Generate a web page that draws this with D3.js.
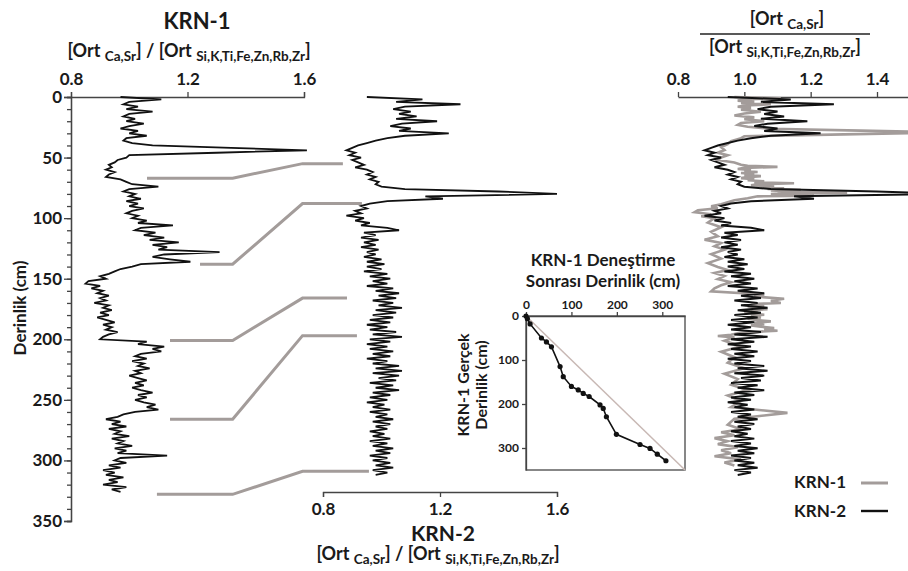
<!DOCTYPE html>
<html><head><meta charset="utf-8">
<script src="https://cdn.jsdelivr.net/npm/d3@7/dist/d3.min.js"></script>
<style>
body{margin:0;background:#fff}
text{font-family:Lato,"Open Sans",sans-serif;font-weight:700;fill:#1a1a1a}
</style>
</head><body>
<svg id="chart" width="908" height="571"></svg>
<script>
// ---------------- DATA ----------------
const depthTicks = [0,50,100,150,200,250,300,350];
const panel1Ticks = [0.8,1.2,1.6];
const panel3Ticks = [0.8,1.0,1.2,1.4];
const insetTicks = [0,100,200,300];

// KRN-1 ratio vs depth (cm)
const krn1Depth = [0,2,4,6,8,10,12,14,16,18,20,22,24,26,28,30,32,34,36,38,40,42,44,46,48,50,52,54,56,58,60,62,64,66,68,70,72,74,76,78,80,82,84,86,88,90,92,94,96,98,100,102,104,106,108,110,112,114,116,118,120,122,124,126,128,130,132,134,136,138,140,142,144,146,148,150,152,154,156,158,160,162,164,166,168,170,172,174,176,178,180,182,184,186,188,190,192,194,196,198,200,202,204,206,208,210,212,214,216,218,220,222,224,226,228,230,232,234,236,238,240,242,244,246,248,250,252,254,256,258,260,262,264,266,268,270,272,274,276,278,280,282,284,286,288,290,292,294,296,298,300,302,304,306,308,310,312,314,316,318,320,322,324,326];
const krn1Values = [
0.97,1.11,1.00,0.98,1.03,0.99,1.08,1.00,0.98,1.02,
0.99,1.05,1.00,0.97,1.03,1.00,1.06,0.99,0.98,1.01,
1.08,1.35,1.61,1.30,1.00,0.99,0.96,0.95,0.93,0.94,
0.92,0.95,0.93,0.92,0.97,0.99,1.01,1.10,1.00,0.98,
1.02,1.00,1.04,0.99,1.03,1.00,1.05,1.01,0.99,1.03,
1.01,1.06,1.03,1.15,1.04,1.02,1.09,1.05,1.12,1.07,
1.17,1.08,1.13,1.10,1.31,1.12,1.08,1.14,1.21,1.04,
1.01,0.97,0.95,0.93,0.90,0.92,0.86,0.85,0.90,0.87,
0.91,0.89,0.93,0.90,0.92,0.88,0.93,0.91,0.94,0.90,
0.93,0.89,0.92,0.95,0.91,0.94,0.92,0.96,0.93,0.91,
0.90,1.06,1.03,1.12,1.08,1.11,1.04,1.02,1.06,1.01,
1.05,1.03,1.07,1.02,1.04,1.00,1.03,1.06,1.02,1.05,
1.01,1.04,1.08,1.03,1.06,1.02,1.05,1.09,1.06,1.10,
1.02,0.98,0.96,0.92,0.97,0.94,0.99,0.93,0.97,0.95,
1.00,0.94,0.98,0.96,1.01,0.95,0.99,0.96,1.13,0.97,
0.95,0.99,0.93,0.97,0.91,0.95,0.92,0.98,0.93,0.96,
0.91,0.99,0.94,0.97];

// KRN-2 ratio vs depth (cm)
const krn2Depth = [0,2,4,6,8,10,12,14,16,18,20,22,24,26,28,30,32,34,36,38,40,42,44,46,48,50,52,54,56,58,60,62,64,66,68,70,72,74,76,78,80,82,84,86,88,90,92,94,96,98,100,102,104,106,108,110,112,114,116,118,120,122,124,126,128,130,132,134,136,138,140,142,144,146,148,150,152,154,156,158,160,162,164,166,168,170,172,174,176,178,180,182,184,186,188,190,192,194,196,198,200,202,204,206,208,210,212,214,216,218,220,222,224,226,228,230,232,234,236,238,240,242,244,246,248,250,252,254,256,258,260,262,264,266,268,270,272,274,276,278,280,282,284,286,288,290,292,294,296,298,300,302,304,306,308,310,312];
const krn2Values = [
0.95,1.14,1.05,1.27,1.08,1.04,1.10,1.06,1.12,1.05,
1.19,1.07,1.03,1.10,1.06,1.23,1.08,1.02,0.98,0.95,
0.92,0.90,0.88,0.91,0.89,0.93,0.90,0.92,0.94,0.91,
0.95,0.97,0.95,0.98,0.96,0.99,0.98,1.00,1.08,1.40,
1.60,1.15,1.21,
1.02,0.96,0.93,0.95,0.91,0.93,0.88,0.94,0.91,0.96,
0.93,1.02,1.06,0.94,0.98,0.93,0.99,0.94,0.98,0.93,
0.99,0.95,0.98,0.94,1.00,0.95,1.01,0.95,1.00,0.94,
1.02,0.96,1.03,0.97,1.02,0.95,1.04,0.98,1.06,0.99,
1.05,0.97,1.04,0.99,1.07,0.98,1.05,0.97,1.04,0.96,
1.03,0.95,1.02,0.96,1.05,0.97,1.07,0.96,1.03,0.95,
1.02,0.96,1.04,0.97,1.03,0.95,1.02,0.97,1.06,0.98,
1.07,0.97,1.06,0.99,1.05,0.96,1.04,0.98,1.06,0.97,
1.03,0.96,1.02,0.95,1.01,0.97,1.03,0.96,1.02,0.98,
1.04,0.97,1.03,0.98,1.02,0.96,1.01,0.97,1.03,0.96,
1.02,0.97,1.04,0.98,1.03,0.96,1.02,0.97,1.03,0.98,
1.04,0.97,1.02,0.98];

// Tie points (KRN-1 depth -> KRN-2 depth)
const tieKrn1Depth = [67,138,201,266,328];
const tieKrn2Depth = [55,88,166,197,309];
const tieStartValue = [1.061,1.243,1.14,1.14,1.095];  // on KRN-1 axis
const tieEndValue = [0.868,0.933,0.882,0.916,0.957];  // on KRN-2 axis

// Inset: KRN-1 adjusted depth (x) vs true depth (y)
const insetAdjusted = [0,3,9,34,45,56,75,82,100,115,126,139,163,170,177,199,251,273,289,308];
const insetTrue = [0,6,18,50,59,70,115,138,160,168,176,183,202,210,229,269,292,301,314,329];

// ---------------- DRAW ----------------
const svg = d3.select("#chart");
const gray = "#a39c9a";

const y = d3.scaleLinear().domain([0,350]).range([97,521]);
const x1 = d3.scaleLinear().domain([0.8,1.6]).range([71,304]);
const x2 = d3.scaleLinear().domain([0.8,1.6]).range([323,557]);
const x3 = d3.scaleLinear().domain([0.8,1.4]).range([678,877]);
const xi = d3.scaleLinear().domain([0,350]).range([526,685]);
const yi = d3.scaleLinear().domain([0,350]).range([316,470]);

function styleAxis(g, fs){
  g.selectAll("path,line").attr("stroke","#444").attr("stroke-width",1.3);
  g.selectAll("text").style("font-size",fs+"px").attr("fill","#1a1a1a");
}

// Depth axis
const minor = d3.range(0,351,10);
svg.append("g").attr("transform","translate(71,0)")
  .call(d3.axisLeft(y).tickValues(minor).tickSize(4).tickFormat(""))
  .call(g=>styleAxis(g,14));
svg.append("g").attr("transform","translate(71,0)")
  .call(d3.axisLeft(y).tickValues(depthTicks).tickSize(7).tickPadding(2).tickFormat(d3.format("d")))
  .call(g=>styleAxis(g,17));
svg.append("text").attr("transform","translate(26,308) rotate(-90)")
  .attr("text-anchor","middle").style("font-size","17px").text("Derinlik (cm)");

// Panel 1 top axis
svg.append("g").attr("transform","translate(0,97)")
  .call(d3.axisTop(x1).tickValues(panel1Ticks).tickSize(5).tickPadding(7).tickFormat(d3.format(".1f")))
  .call(g=>styleAxis(g,17));

// Panel 2 bottom axis
svg.append("g").attr("transform","translate(0,492)")
  .call(d3.axisBottom(x2).tickValues(panel1Ticks).tickSize(5).tickPadding(6).tickFormat(d3.format(".1f")))
  .call(g=>styleAxis(g,17));

// Panel 3 top axis (extends to the edge)
const x3ext = d3.scaleLinear().domain([0.8, x3.invert(908)]).range([678,908]);
svg.append("g").attr("transform","translate(0,97)")
  .call(d3.axisTop(x3ext).tickValues(panel3Ticks).tickSize(5).tickSizeOuter(0).tickPadding(7).tickFormat(d3.format(".1f")))
  .call(g=>styleAxis(g,17));

// Ratio label
function ratioLabel(x, yy, big, small){
  const t = svg.append("text").attr("x",x).attr("y",yy).attr("text-anchor","middle").style("font-size",big+"px");
  t.append("tspan").text("[Ort ");
  t.append("tspan").attr("dy",4).style("font-size",small+"px").text("Ca,Sr");
  t.append("tspan").attr("dy",-4).text("] / [Ort ");
  t.append("tspan").attr("dy",4).style("font-size",small+"px").text("Si,K,Ti,Fe,Zn,Rb,Zr");
  t.append("tspan").attr("dy",-4).text("]");
}
svg.append("text").attr("x",197).attr("y",29).attr("text-anchor","middle").style("font-size","22px").text("KRN-1");
ratioLabel(189,57,18,13.5);
svg.append("text").attr("x",443).attr("y",541).attr("text-anchor","middle").style("font-size","21px").text("KRN-2");
ratioLabel(438,560,18,13.5);

// Panel 3 fraction title
{
  const t = svg.append("text").attr("x",787).attr("y",25).attr("text-anchor","middle").style("font-size","18px");
  t.append("tspan").text("[Ort ");
  t.append("tspan").attr("dy",4).style("font-size","13.5px").text("Ca,Sr");
  t.append("tspan").attr("dy",-4).text("]");
  svg.append("line").attr("x1",700).attr("x2",870).attr("y1",34).attr("y2",34).attr("stroke","#222").attr("stroke-width",1.6);
  const b = svg.append("text").attr("x",785).attr("y",53).attr("text-anchor","middle").style("font-size","18px");
  b.append("tspan").text("[Ort ");
  b.append("tspan").attr("dy",4).style("font-size","13.5px").text("Si,K,Ti,Fe,Zn,Rb,Zr");
  b.append("tspan").attr("dy",-4).text("]");
}

// Tie lines
const bendA = x1(1.355), bendB = x1(1.595);
tieKrn1Depth.forEach((d,i)=>{
  const pts = [[x1(tieStartValue[i]), y(d)],[bendA, y(d)],[bendB, y(tieKrn2Depth[i])],[x2(tieEndValue[i]), y(tieKrn2Depth[i])]];
  svg.append("path").attr("d", d3.line()(pts)).attr("fill","none").attr("stroke",gray).attr("stroke-width",3);
});

// Traces
const krn1 = krn1Depth.map((d,i)=>({d, v:krn1Values[i]}));
const krn2 = krn2Depth.map((d,i)=>({d, v:krn2Values[i]}));
svg.append("path").datum(krn1).attr("fill","none").attr("stroke","#111").attr("stroke-width",1.8)
  .attr("d", d3.line().x(p=>x1(p.v)).y(p=>y(p.d)));
svg.append("path").datum(krn2).attr("fill","none").attr("stroke","#111").attr("stroke-width",1.8)
  .attr("d", d3.line().x(p=>x2(p.v)).y(p=>y(p.d)));

// Panel 3: KRN-1 on adjusted depth (gray) and KRN-2 (black)
const toAdjusted = d3.scaleLinear().domain(insetTrue).range(insetAdjusted);
svg.append("path").datum(krn1).attr("fill","none").attr("stroke",gray).attr("stroke-width",2.6)
  .attr("d", d3.line().x(p=>x3(p.v)).y(p=>y(toAdjusted(p.d))));
svg.append("path").datum(krn2).attr("fill","none").attr("stroke","#111").attr("stroke-width",2)
  .attr("d", d3.line().x(p=>x3(p.v)).y(p=>y(p.d)));

// Inset
svg.append("rect").attr("x",xi(0)).attr("y",yi(0)).attr("width",xi(350)-xi(0)).attr("height",yi(350)-yi(0))
  .attr("fill","#fff").attr("stroke","#555").attr("stroke-width",1.4);
svg.append("line").attr("x1",xi(0)).attr("y1",yi(0)).attr("x2",xi(350)).attr("y2",yi(350))
  .attr("stroke","#c8b8b4").attr("stroke-width",1.5);
svg.append("g").attr("transform",`translate(0,${yi(0)})`)
  .call(d3.axisTop(xi).tickValues(insetTicks).tickSize(4).tickSizeOuter(0).tickPadding(3))
  .call(g=>styleAxis(g,12));
svg.append("g").attr("transform",`translate(${xi(0)},0)`)
  .call(d3.axisLeft(yi).tickValues(insetTicks).tickSize(4).tickSizeOuter(0).tickPadding(3))
  .call(g=>styleAxis(g,12));
const insetPts = insetAdjusted.map((a,i)=>[xi(a), yi(insetTrue[i])]);
svg.append("path").attr("d", d3.line()(insetPts)).attr("fill","none").attr("stroke","#111").attr("stroke-width",1.6);
svg.selectAll("circle.ip").data(insetPts).enter().append("circle")
  .attr("cx",p=>p[0]).attr("cy",p=>p[1]).attr("r",2.6).attr("fill","#111");
svg.append("text").attr("x",603).attr("y",266).attr("text-anchor","middle").style("font-size","17px").text("KRN-1 Deneştirme");
svg.append("text").attr("x",603).attr("y",287).attr("text-anchor","middle").style("font-size","17px").text("Sonrası Derinlik (cm)");
svg.append("text").attr("transform","translate(469,385) rotate(-90)").attr("text-anchor","middle").style("font-size","16px").text("KRN-1 Gerçek");
svg.append("text").attr("transform","translate(487,385) rotate(-90)").attr("text-anchor","middle").style("font-size","16px").text("Derinlik (cm)");

// Legend
svg.append("text").attr("x",846).attr("y",488).attr("text-anchor","end").style("font-size","17px").text("KRN-1");
svg.append("line").attr("x1",861).attr("x2",888).attr("y1",483).attr("y2",483).attr("stroke",gray).attr("stroke-width",3);
svg.append("text").attr("x",846).attr("y",517).attr("text-anchor","end").style("font-size","17px").text("KRN-2");
svg.append("line").attr("x1",861).attr("x2",888).attr("y1",511).attr("y2",511).attr("stroke","#111").attr("stroke-width",2.4);
</script>
</body></html>
